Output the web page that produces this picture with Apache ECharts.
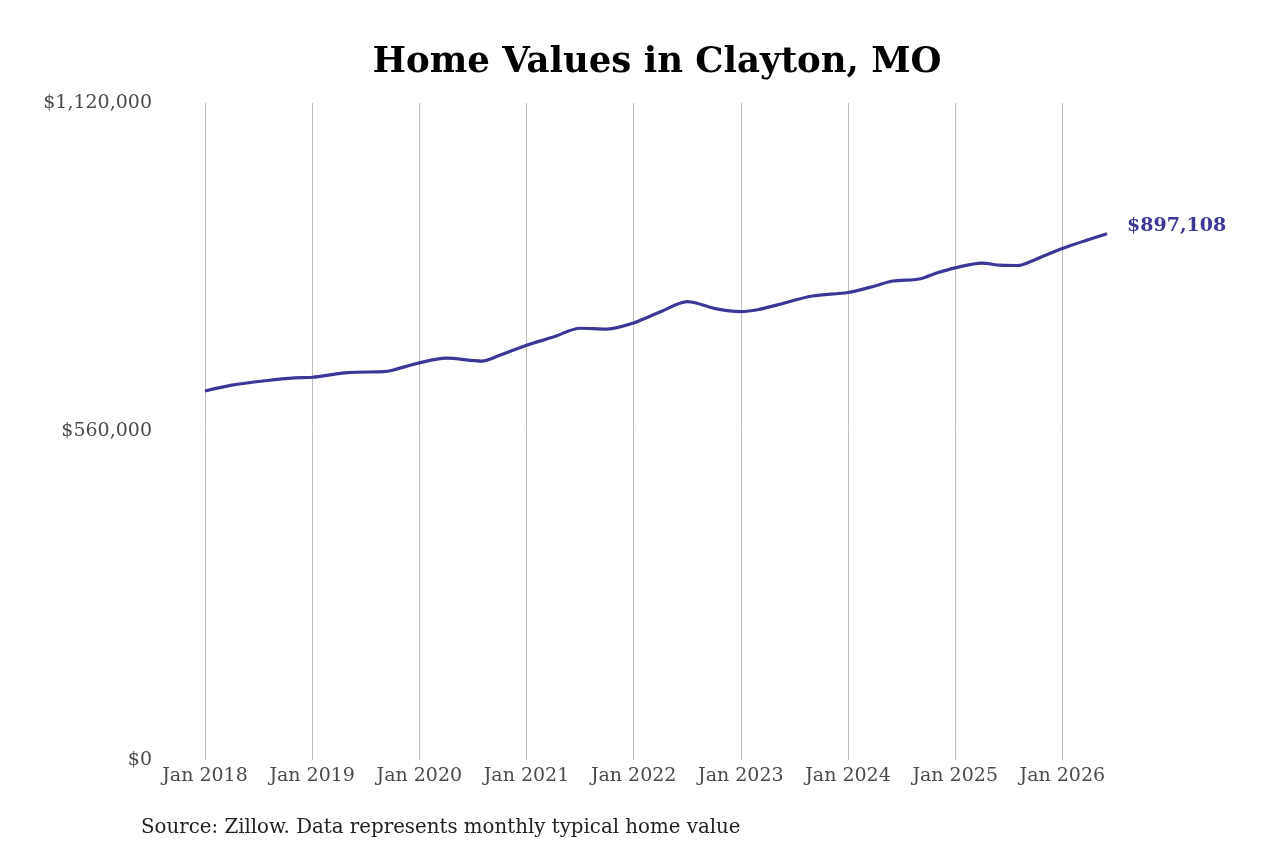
<!DOCTYPE html>
<html>
<head>
<meta charset="utf-8">
<script src="https://cdn.jsdelivr.net/npm/echarts@6/dist/echarts.min.js"></script>
<style>
  html, body { margin: 0; padding: 0; background: #fff; }
  #chart { width: 1280px; height: 853px; }
</style>
</head>
<body>
<div id="chart"></div>
<script>
// months counted from Jan 2018 (0)
const monthIdx = [0, 3, 7, 10, 12, 16, 20, 21, 24, 27, 31, 33, 36, 39, 42, 45, 48, 51, 54, 55,
  57, 60, 62, 64, 68, 72, 75, 77, 80, 82, 84, 87, 89, 91, 92, 96, 101];
const homeValues = [629000, 639000, 647000, 651500, 652500, 660500, 662000, 664500, 677000, 685000,
  680000, 690000, 707000, 721000, 736000, 734500, 745000, 764000, 781500, 779000,
  770000, 764500, 768000, 775500, 791000, 797000, 808000, 816500, 820000, 830500,
  839000, 847000, 843500, 843000, 847000, 872000, 897108];
const yTicks = [0, 560000, 1120000];
const startYear = 2018;
const lastLabel = '$897,108';

const seriesData = monthIdx.map((m, i) => [m, homeValues[i]]);
const serif = 'DejaVu Serif';
const lineColor = '#3b3797';

const chart = echarts.init(document.getElementById('chart'));
chart.setOption({
  animation: false,
  backgroundColor: '#fff',
  title: {
    text: 'Home Values in Clayton, MO',
    left: 652,
    top: 40,
    textAlign: 'center',
    textStyle: { fontFamily: serif, fontWeight: 'bold', fontSize: 35.5, color: '#000' }
  },
  grid: { left: 205, right: 173, top: 103, bottom: 93 },
  xAxis: {
    type: 'value',
    min: 0,
    max: 101,
    interval: 12,
    axisLine: { show: false },
    axisTick: { show: false },
    splitLine: { show: true, showMinLine: true, showMaxLine: false, lineStyle: { color: '#bdbdbd', width: 1 } },
    axisLabel: {
      margin: 7,
      fontFamily: serif,
      fontSize: 19,
      color: '#4a4a4a',
      showMaxLabel: false,
      formatter: v => (v % 12 === 0 ? 'Jan ' + (startYear + v / 12) : '')
    }
  },
  yAxis: {
    type: 'value',
    min: yTicks[0],
    max: yTicks[yTicks.length - 1],
    interval: yTicks[1] - yTicks[0],
    axisLine: { show: false },
    axisTick: { show: false },
    splitLine: { show: false },
    axisLabel: {
      margin: 53,
      fontFamily: serif,
      fontSize: 19,
      color: '#4a4a4a',
      formatter: v => '$' + v.toLocaleString('en-US')
    }
  },
  series: [{
    type: 'line',
    data: seriesData,
    smooth: 0.3,
    showSymbol: false,
    lineStyle: { color: lineColor, width: 3.2 },
    endLabel: {
      show: true,
      formatter: lastLabel,
      distance: 20,
      offset: [0, -8],
      fontFamily: serif,
      fontWeight: 'bold',
      fontSize: 19,
      color: lineColor
    }
  }],
  graphic: [{
    type: 'text',
    left: 141,
    top: 818,
    style: {
      text: 'Source: Zillow. Data represents monthly typical home value',
      fontFamily: serif,
      fontSize: 19.8,
      fill: '#222'
    }
  }]
});
</script>
</body>
</html>
